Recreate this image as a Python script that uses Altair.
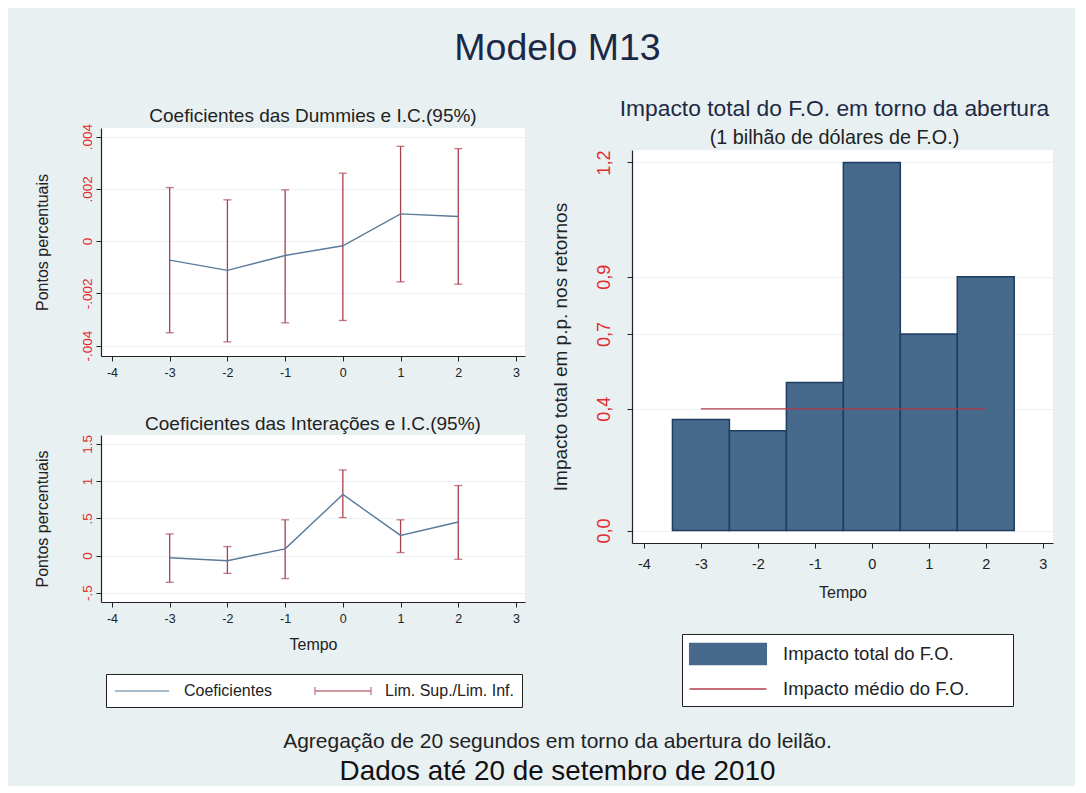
import altair as alt
import pandas as pd

# ---------------- data ----------------
tempo = [-3, -2, -1, 0, 1, 2]

dum_coef = [-0.00073, -0.00112, -0.00055, -0.00018, 0.00104, 0.00094]
dum_upper = [0.00205, 0.00158, 0.00196, 0.00260, 0.00363, 0.00354]
dum_lower = [-0.00351, -0.00386, -0.00313, -0.00304, -0.00156, -0.00165]

int_coef = [-0.03, -0.07, 0.09, 0.82, 0.27, 0.45]
int_upper = [0.29, 0.12, 0.48, 1.15, 0.48, 0.94]
int_lower = [-0.36, -0.24, -0.31, 0.51, 0.04, -0.05]

impacto_total = [0.375, 0.337, 0.500, 1.243, 0.664, 0.857]
impacto_medio = 0.411
medio_tempo = [-3, 2]

x_ticks = [-4, -3, -2, -1, 0, 1, 2, 3]
dum_yticks = [-0.004, -0.002, 0, 0.002, 0.004]
dum_ylabels = ["-.004", "-.002", "0", ".002", ".004"]
int_yticks = [-0.5, 0, 0.5, 1, 1.5]
int_ylabels = ["-.5", "0", ".5", "1", "1.5"]
imp_yticks = [0, 0.411, 0.664, 0.857, 1.243]
imp_ylabels = ["0,0", "0,4", "0,7", "0,9", "1,2"]

serie_coef = "Coeficientes"
serie_lim = "Lim. Sup./Lim. Inf."
serie_total = "Impacto total do F.O."
serie_medio = "Impacto médio do F.O."

# ---------------- styles ----------------
BG = "#E8F0F2"
BLUE_LINE = "#5A7A99"
RED_BAR = "#A8404E"
RED_LAB = "#E42B2F"
RED_MEAN = "#B03A48"
BAR_FILL = "#476A8C"
BAR_EDGE = "#1E3E60"
GRID = "#EDF2F4"
INK = "#222222"
FONT = "Liberation Sans"


def label_expr(vals, labs):
    expr = "''"
    for v, l in reversed(list(zip(vals, labs))):
        expr = f"datum.value == {v!r} ? '{l}' : ({expr})"
    return expr


def x_axis(title, label_size, title_size, label_pad, title_pad):
    return alt.Axis(
        values=x_ticks, labelExpr="toString(datum.value)", title=title,
        grid=False, labelFontSize=label_size, titleFontSize=title_size,
        tickSize=5, labelPadding=label_pad, titlePadding=title_pad,
    )


def y_axis(vals, labs, title, label_size, title_size, label_pad, title_pad):
    return alt.Axis(
        values=vals, labelExpr=label_expr(vals, labs), title=title,
        labelAngle=-90, labelAlign="center", labelBaseline="bottom",
        labelColor=RED_LAB, labelFontSize=label_size, labelPadding=label_pad,
        titleFontSize=title_size, titlePadding=title_pad,
        grid=True, gridColor=GRID, gridWidth=1, tickSize=5,
    )


LINE_L = "M-3.375,0L3.375,0"
EBAR_L = "M-3.5,-0.5L-3.5,0.5M-3.5,0L3.5,0M3.5,-0.5L3.5,0.5"
RECT_R = "M-3.2,-0.875L3.2,-0.875L3.2,0.875L-3.2,0.875Z"
LINE_R = "M-3.2,0L3.2,0"


def coef_panel(coef, upper, lower, yticks, ylabels, ydom, title, height, xtitle,
               show_legend, title_offset):
    df = pd.DataFrame({"tempo": tempo, "coef": coef, "upper": upper, "lower": lower})
    base = alt.Chart(df)
    xs = alt.Scale(domain=[-4.19, 3.156], nice=False, zero=False)
    ys = alt.Scale(domain=ydom, nice=False, zero=False)
    cscale = alt.Scale(domain=[serie_coef, serie_lim], range=[BLUE_LINE, RED_BAR])
    if show_legend:
        leg = alt.Legend(
            title=None, orient="none", legendX=5, legendY=239, direction="horizontal",
            strokeColor=INK, fillColor="white", padding=8, cornerRadius=0,
            symbolSize=256, symbolStrokeWidth=1.3, symbolOffset=19,
            labelFontSize=16, labelColor=INK, labelOffset=33, labelLimit=400,
            columnPadding=39,
            symbolType=alt.ExprRef(f"datum.value == '{serie_coef}' ? '{LINE_L}' : '{EBAR_L}'"),
            symbolFillColor="transparent",
        )
    else:
        leg = None
    col = alt.Color("serie:N", scale=cscale, legend=leg)
    xenc = alt.X("tempo:Q", scale=xs, axis=x_axis(xtitle, 12.5, 16, 5, 12))
    rules = base.transform_calculate(serie=f"'{serie_lim}'").mark_rule(strokeWidth=1.3).encode(
        x=xenc,
        y=alt.Y("lower:Q", scale=ys,
                axis=y_axis(yticks, ylabels, "Pontos percentuais", 13.5, 16, 2, 30)),
        y2="upper:Q", color=col)
    cap_lo = base.transform_calculate(serie=f"'{serie_lim}'").mark_tick(
        orient="horizontal", size=8, thickness=1.3).encode(
        x=alt.X("tempo:Q"), y=alt.Y("lower:Q"), color=col)
    cap_hi = base.transform_calculate(serie=f"'{serie_lim}'").mark_tick(
        orient="horizontal", size=8, thickness=1.3).encode(
        x=alt.X("tempo:Q"), y=alt.Y("upper:Q"), color=col)
    line = base.transform_calculate(serie=f"'{serie_coef}'").mark_line(strokeWidth=1.4).encode(
        x=alt.X("tempo:Q"), y=alt.Y("coef:Q"), color=col)
    return alt.layer(rules, cap_lo, cap_hi, line).properties(
        width=424, height=height,
        title=alt.TitleParams(title, fontSize=19, fontWeight="normal", color=INK,
                              anchor="middle", offset=title_offset),
    )


top_left = coef_panel(dum_coef, dum_upper, dum_lower, dum_yticks, dum_ylabels,
                      [-0.0044, 0.00433], "Coeficientes das Dummies e I.C.(95%)", 228, None,
                      False, -3)
bottom_left = coef_panel(int_coef, int_upper, int_lower, int_yticks, int_ylabels,
                         [-0.625, 1.62], "Coeficientes das Interações e I.C.(95%)", 167, "Tempo",
                         True, 1)

# ---------------- right panel ----------------
bars_df = pd.DataFrame({"tempo": tempo, "impacto": impacto_total})
medio_df = pd.DataFrame({"tempo": medio_tempo, "medio": [impacto_medio] * len(medio_tempo)})

rx = alt.Scale(domain=[-4.21, 3.18], nice=False, zero=False)
ry = alt.Scale(domain=[-0.042, 1.285], nice=False, zero=False)
rcol_scale = alt.Scale(domain=[serie_total, serie_medio], range=[BAR_FILL, RED_MEAN])
rleg = alt.Legend(
    title="\u00a0", titleOrient="right", titlePadding=37, titleFontSize=8,
    orient="none", legendX=50, legendY=484, direction="vertical",
    strokeColor=INK, fillColor="white", padding=7, cornerRadius=0,
    symbolSize=576, symbolStrokeWidth=1.3, symbolOffset=26,
    labelFontSize=18.5, labelColor=INK, labelOffset=42, labelLimit=400, rowPadding=8,
    symbolType=alt.ExprRef(f"datum.value == '{serie_total}' ? '{RECT_R}' : '{LINE_R}'"),
)
rcol = alt.Color("serie:N", scale=rcol_scale, legend=rleg)

bars = alt.Chart(bars_df).transform_calculate(
    x0="datum.tempo - 0.5", x1="datum.tempo + 0.5", serie=f"'{serie_total}'", base="0"
).mark_rect(stroke=BAR_EDGE, strokeWidth=1.5).encode(
    x=alt.X("x0:Q", scale=rx, axis=x_axis("Tempo", 14.5, 16, 9, 14)),
    x2="x1:Q",
    y=alt.Y("impacto:Q", scale=ry,
            axis=y_axis(imp_yticks, imp_ylabels, "Impacto total em p.p. nos retornos", 18, 19, 14, 25)),
    y2="base:Q",
    color=rcol,
)
medio = alt.Chart(medio_df).transform_calculate(serie=f"'{serie_medio}'").mark_line(strokeWidth=1.3).encode(
    x=alt.X("tempo:Q"), y=alt.Y("medio:Q"), color=rcol,
)
right = alt.layer(bars, medio).properties(
    width=421, height=393,
    title=alt.TitleParams(
        "Impacto total do F.O. em torno da abertura",
        subtitle="(1 bilhão de dólares de F.O.)",
        fontSize=22.8, fontWeight="normal", color="#1E2A44",
        subtitleFontSize=19.8, subtitleColor=INK, subtitlePadding=7,
        anchor="middle", offset=2, dx=-8,
    ),
)


def spacer():
    return alt.Chart(pd.DataFrame({"s": [0]})).mark_point(opacity=0, size=1).properties(
        width=1, height=1, view=alt.ViewBackground(fill="transparent", stroke="transparent"))


left_inner = alt.vconcat(top_left, bottom_left, spacing=35).resolve_scale(
    color="independent").resolve_legend(color="independent")
left_col = alt.vconcat(spacer(), left_inner, spacing=9).resolve_scale(
    color="independent").resolve_legend(color="independent")
right_col = alt.vconcat(spacer(), right, spacing=0).resolve_scale(
    color="independent").resolve_legend(color="independent")

main = alt.hconcat(left_col, right_col, spacing=25).resolve_scale(
    color="independent").resolve_legend(color="independent").properties(
    title=alt.TitleParams(
        "Agregação de 20 segundos em torno da abertura do leilão.",
        subtitle="Dados até 20 de setembro de 2010",
        orient="bottom", anchor="middle", fontSize=21, fontWeight="normal", color=INK,
        subtitleFontSize=27.8, subtitleColor="#111111", subtitlePadding=6.5, offset=23, dx=14,
    )
)

chart = alt.vconcat(main).resolve_scale(color="independent").resolve_legend(color="independent").properties(
    title=alt.TitleParams("Modelo M13", fontSize=37.5, fontWeight="normal", color="#1B2846",
                          anchor="middle", offset=28, dx=14),
    padding={"left": 26, "top": 22, "right": 22, "bottom": 0},
).configure(background=BG, font=FONT).configure_view(stroke=None, fill="white").configure_axis(
    domainColor=INK, tickColor=INK, labelColor=INK, titleColor=INK, titleFontWeight="normal",
    labelFont=FONT, titleFont=FONT, domainWidth=1.2,
).configure_legend(labelFont=FONT)

chart.save("out.html", embed_options={"renderer": "svg", "actions": False})
